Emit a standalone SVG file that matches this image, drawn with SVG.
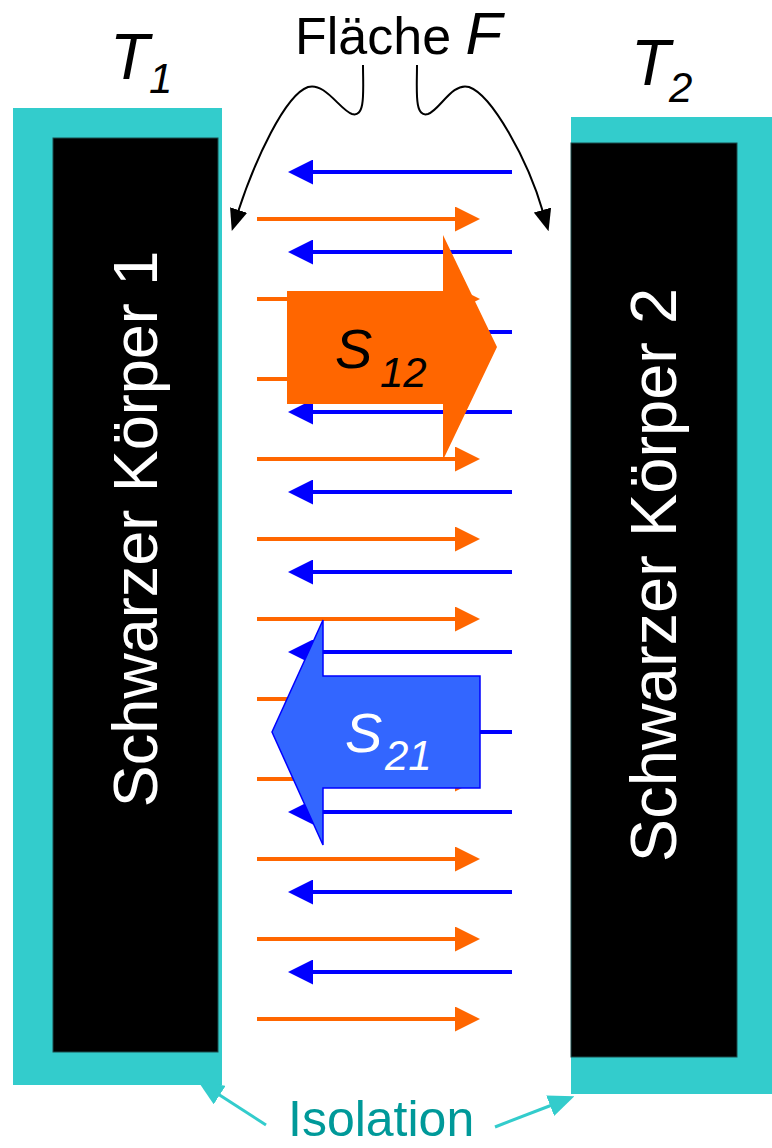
<svg xmlns="http://www.w3.org/2000/svg" width="772" height="1148" viewBox="0 0 772 1148">
<defs>
<style>
.txt{font-family:"Liberation Sans",Arial,sans-serif}
.it{font-style:italic}
.ol{stroke:#FF6600;stroke-width:4;fill:none;marker-end:url(#oh)}
.bl{stroke:#0000FF;stroke-width:4;fill:none;marker-end:url(#bh)}
.curve{stroke:#000;stroke-width:2;fill:none;marker-end:url(#kh)}
.iso{stroke:#33CCCC;stroke-width:3;fill:none;marker-end:url(#ch)}
</style>
<marker id="oh" viewBox="0 0 25 25" refX="0" refY="12.5" markerWidth="25" markerHeight="25" markerUnits="userSpaceOnUse" orient="auto"><path d="M0,0 L25,12.5 L0,25 z" fill="#FF6600"/></marker>
<marker id="bh" viewBox="0 0 25 25" refX="0" refY="12.5" markerWidth="25" markerHeight="25" markerUnits="userSpaceOnUse" orient="auto"><path d="M0,0 L25,12.5 L0,25 z" fill="#0000FF"/></marker>
<marker id="kh" viewBox="0 0 22 18" refX="2" refY="9" markerWidth="22" markerHeight="18" markerUnits="userSpaceOnUse" orient="auto"><path d="M0,0 L22,9 L0,18 z" fill="#000"/></marker>
<marker id="ch" viewBox="0 0 26 22" refX="2" refY="11" markerWidth="26" markerHeight="22" markerUnits="userSpaceOnUse" orient="auto"><path d="M0,0 L26,11 L0,22 z" fill="#33CCCC"/></marker>
</defs>
<rect width="772" height="1148" fill="#fff"/>

<g id="body1">
<rect x="13" y="108" width="209" height="977" fill="#33CCCC"/>
<rect x="53" y="138" width="165" height="914" fill="#000" stroke="#1a4d4d" stroke-width="1"/>
<text class="txt" transform="translate(157,529) rotate(-90)" text-anchor="middle" font-size="63" fill="#fff">Schwarzer Körper 1</text>
</g>
<g id="body2">
<rect x="571" y="117" width="201" height="977" fill="#33CCCC"/>
<rect x="571" y="143" width="166" height="914" fill="#000" stroke="#1a4d4d" stroke-width="1"/>
<text class="txt" transform="translate(676,575) rotate(-90)" text-anchor="middle" font-size="65" fill="#fff">Schwarzer Körper 2</text>
</g>

<g id="label-T1"><text class="txt it" x="110" y="79" font-size="64" fill="#000">T</text><text class="txt it" x="149" y="93" font-size="42" fill="#000">1</text></g>
<g id="label-T2"><text class="txt it" x="631" y="85" font-size="64" fill="#000">T</text><text class="txt it" x="669" y="102" font-size="42" fill="#000">2</text></g>
<g id="label-F"><text class="txt" x="295" y="54" font-size="52" fill="#000">Fläche <tspan class="it" font-size="60">F</tspan></text></g>

<g id="connectors">
<path class="bl" d="M512,172 H313"/>
<path class="bl" d="M512,252 H313"/>
<path class="bl" d="M512,332 H313"/>
<path class="bl" d="M512,412 H313"/>
<path class="bl" d="M512,492 H313"/>
<path class="bl" d="M512,572 H313"/>
<path class="bl" d="M512,652 H313"/>
<path class="bl" d="M512,732 H313"/>
<path class="bl" d="M512,812 H313"/>
<path class="bl" d="M512,892 H313"/>
<path class="bl" d="M512,972 H313"/>
<path class="ol" d="M257,219 H455"/>
<path class="ol" d="M257,299 H455"/>
<path class="ol" d="M257,379 H455"/>
<path class="ol" d="M257,459 H455"/>
<path class="ol" d="M257,539 H455"/>
<path class="ol" d="M257,619 H455"/>
<path class="ol" d="M257,699 H455"/>
<path class="ol" d="M257,779 H455"/>
<path class="ol" d="M257,859 H455"/>
<path class="ol" d="M257,939 H455"/>
<path class="ol" d="M257,1019 H455"/>
<path class="curve" d="M363,65 C363,90 366,118 352,114 C340,110 325,82 308,87 C285,95 255,160 238,212"/>
<path class="curve" d="M417,65 C417,90 414,118 428,114 C440,110 452,82 469,87 C492,95 528,160 543,212"/>
<path class="iso" d="M266,1125 L218,1094"/>
<path class="iso" d="M495,1127 L552,1105"/>
</g>

<g id="S12">
<path d="M287,291 H443 V235 L497,347 L443,460 V404 H287 z" fill="#FF6600"/>
<text class="txt it" x="335" y="368" font-size="56" fill="#000">S</text><text class="txt it" x="380" y="387" font-size="42" fill="#000">12</text>
</g>
<g id="S21">
<path d="M480,676 H323 V620 L272,732 L323,845 V788 H480 z" fill="#3366FF" stroke="#0000FF" stroke-width="1.5"/>
<text class="txt it" x="345" y="752" font-size="56" fill="#fff">S</text><text class="txt it" x="385" y="770" font-size="42" fill="#fff">21</text>
</g>

<g id="label-isolation"><text class="txt" x="288" y="1136" font-size="50" fill="#009999">Isolation</text></g>
</svg>
